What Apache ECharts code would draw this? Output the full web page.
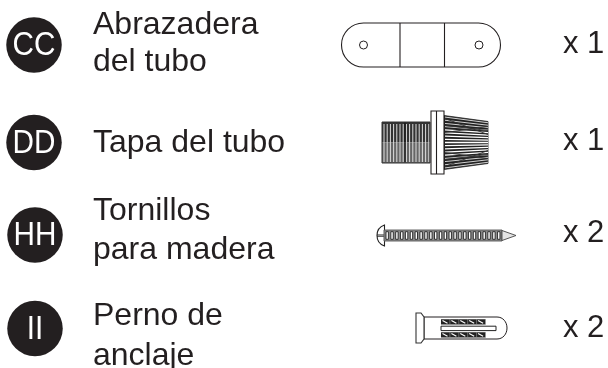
<!DOCTYPE html>
<html>
<head>
<meta charset="utf-8">
<style>
  html, body { margin: 0; padding: 0; background: #fff; }
  #main { width: 608px; height: 368px; }
</style>
<script src="https://cdn.jsdelivr.net/npm/echarts@6/dist/echarts.min.js"></script>
</head>
<body>
<div id="main"></div>
<script>
// rows of the parts list
const badges = ['CC', 'DD', 'HH', 'II']
const badgeX = [34, 34, 35, 35]
const badgeY = [45, 142.5, 235, 328.5]

const nameLines = ['Abrazadera', 'del tubo', 'Tapa del tubo', 'Tornillos', 'para madera', 'Perno de', 'anclaje']
const nameY = [25, 62, 143, 211, 250, 316, 356]

const quantities = ['x 1', 'x 1', 'x 2', 'x 2']
const quantityY = [44, 141, 233, 328]

const parts = ['clamp', 'cap', 'screw', 'anchor']
const partX = [421, 435, 446, 461]
const partY = [45, 142.5, 235.5, 328]

const ink = '#231f20'

function line(x1, y1, x2, y2, stroke, lineWidth) {
  return { type: 'line', shape: { x1, y1, x2, y2 }, style: { stroke, lineWidth: lineWidth || 1 }, silent: true }
}
function rect(x, y, width, height, fill, stroke, lineWidth) {
  return { type: 'rect', shape: { x, y, width, height }, style: { fill: fill || 'none', stroke: stroke || 'none', lineWidth: lineWidth || 1 }, silent: true }
}

// the small drawings, local coordinates around each part's centre
function drawClamp() {
  const out = []
  out.push({ type: 'rect', shape: { x: -79.5, y: -22, width: 159, height: 44, r: 22 }, style: { fill: '#fff', stroke: ink, lineWidth: 1.1 } })
  out.push(line(-21, -22, -21, 22, ink, 1.1))
  out.push(line(23.5, -22, 23.5, 22, ink, 1.1))
  out.push({ type: 'circle', shape: { cx: -57.5, cy: 0, r: 4 }, style: { fill: '#fff', stroke: ink, lineWidth: 1 } })
  out.push({ type: 'circle', shape: { cx: 58, cy: 0, r: 4 }, style: { fill: '#fff', stroke: ink, lineWidth: 1 } })
  return out
}

function drawCap() {
  const out = []
  // threaded neck, upper half reads darker
  out.push(rect(-53, -20.5, 48, 20.5, '#333'))
  out.push(rect(-53, 0, 48, 20.5, '#666'))
  for (let x = -51; x < -6; x += 3.2) {
    out.push(line(x, -18.5, x, 19.5, '#ddd', 1))
  }
  out.push(line(-30, -20, -30, 20, '#111', 1.2))
  out.push(rect(-53, -20.5, 48, 41, 'none', '#333', 1))
  // cone
  out.push({ type: 'polygon', shape: { points: [[9, -27], [53, -21], [53, 21], [9, 27]] }, style: { fill: '#222', stroke: '#222', lineWidth: 0.8 } })
  for (let i = 0; i < 17; i++) {
    const t = (i + 0.5) / 17 * 2 - 1
    const w = Math.abs(t) < 0.5 ? 1.3 : 0.8
    out.push(line(10, t * 27, 53, t * 21, '#fff', w))
  }
  for (let i = 0; i < 3; i++) {
    out.push(line(10, -24 + i * 7, 53, -8 - i * 4, '#333', 0.9))
    out.push(line(10, 24 - i * 7, 53, 8 + i * 4, '#333', 0.9))
  }
  // flange
  out.push(rect(-4, -31.5, 13, 63, '#fff', ink, 1.1))
  out.push(line(1.5, -31.5, 1.5, 31.5, ink, 1.1))
  return out
}

function drawScrew() {
  const out = []
  // head
  out.push({ type: 'path', shape: { pathData: 'M-61.5 -10.5 C-66 -9 -69 -5 -69 0 C-69 5 -66 9 -61.5 10.5 Z' }, style: { fill: '#fff', stroke: '#222', lineWidth: 1.1 } })
  out.push(line(-69, -0.5, -62, -0.5, '#222', 1))
  out.push(line(-69, 1, -62, 1, '#222', 0.7))
  // shaft and tip
  out.push(rect(-62, -5.5, 118, 11, '#8c8c8c', '#555', 0.9))
  out.push({ type: 'polygon', shape: { points: [[56, -5], [70, 0], [56, 5]] }, style: { fill: '#e4e4e4', stroke: '#444', lineWidth: 0.9 } })
  for (let x = -60; x < 54; x += 4.85) {
    out.push(rect(x, -3.8, 2.4, 7.6, '#fff', '#222', 0.9))
  }
  return out
}

function drawAnchor() {
  const out = []
  out.push({ type: 'path', shape: { pathData: 'M-37 -11 L36 -11 C42 -11 46 -6 46 0 C46 6 42 11 36 11 L-37 11 Z' }, style: { fill: '#fff', stroke: ink, lineWidth: 1 } })
  out.push({ type: 'polygon', shape: { points: [[-45, -15], [-40, -15], [-37, -11], [-37, 11], [-40, 15], [-45, 15]] }, style: { fill: '#fff', stroke: '#333', lineWidth: 1.1 } })
  out.push(rect(-20, -1.8, 55, 4.4, '#fff', '#222', 1))
  const top = [-8.8, 4.2]
  top.forEach(y => {
    out.push(rect(-20, y, 44.5, 5.4, '#222'))
    for (let i = 0; i < 5; i++) {
      const x = -20 + i * 8.9
      out.push(line(x + 1.5, y + 1.3, x + 6.5, y + 4, '#fff', 1.1))
      out.push(line(x + 8.9, y, x + 8.9, y + 5.4, '#999', 0.6))
    }
  })
  return out
}

const drawers = { clamp: drawClamp, cap: drawCap, screw: drawScrew, anchor: drawAnchor }

const myChart = echarts.init(document.getElementById('main'))

myChart.setOption({
  animation: false,
  backgroundColor: '#fff',
  grid: { left: 0, right: 0, top: 0, bottom: 0 },
  xAxis: { type: 'value', min: 0, max: 608, show: false },
  yAxis: { type: 'value', min: 0, max: 368, inverse: true, show: false },
  series: [
    {
      type: 'scatter',
      symbol: 'circle',
      symbolSize: 55.5,
      itemStyle: { color: ink, opacity: 1 },
      data: badges.map((b, i) => [badgeX[i], badgeY[i]])
    },
    {
      // badge letters sit tight in the reference, so squeeze them a bit
      type: 'custom',
      coordinateSystem: 'cartesian2d',
      silent: true,
      z: 3,
      renderItem(params, api) {
        const pt = api.coord([api.value(0), api.value(1)])
        return {
          type: 'text',
          x: pt[0],
          y: pt[1] + 1,
          scaleX: 0.9,
          style: {
            text: badges[params.dataIndex],
            fill: '#fff',
            fontFamily: 'Liberation Sans',
            fontSize: 33,
            textAlign: 'center',
            textVerticalAlign: 'middle'
          }
        }
      },
      data: badges.map((b, i) => [badgeX[i], badgeY[i]])
    },
    {
      type: 'custom',
      coordinateSystem: 'cartesian2d',
      silent: true,
      renderItem(params, api) {
        const pt = api.coord([93, api.value(0)])
        return {
          type: 'text',
          x: pt[0],
          y: pt[1],
          style: {
            text: nameLines[params.dataIndex],
            fill: ink,
            fontFamily: 'Liberation Sans',
            fontSize: 32,
            textAlign: 'left',
            textVerticalAlign: 'middle'
          }
        }
      },
      data: nameY.map(y => [y])
    },
    {
      type: 'custom',
      coordinateSystem: 'cartesian2d',
      silent: true,
      renderItem(params, api) {
        const pt = api.coord([563, api.value(0)])
        return {
          type: 'text',
          x: pt[0],
          y: pt[1],
          style: {
            text: quantities[params.dataIndex],
            fill: ink,
            fontFamily: 'Liberation Sans',
            fontSize: 31,
            textAlign: 'left',
            textVerticalAlign: 'middle'
          }
        }
      },
      data: quantityY.map(y => [y])
    },
    {
      type: 'custom',
      coordinateSystem: 'cartesian2d',
      silent: true,
      clip: false,
      renderItem(params, api) {
        const pt = api.coord([api.value(0), api.value(1)])
        return {
          type: 'group',
          x: pt[0],
          y: pt[1],
          children: drawers[parts[params.dataIndex]]()
        }
      },
      data: parts.map((p, i) => [partX[i], partY[i]])
    }
  ]
})
</script>
</body>
</html>
